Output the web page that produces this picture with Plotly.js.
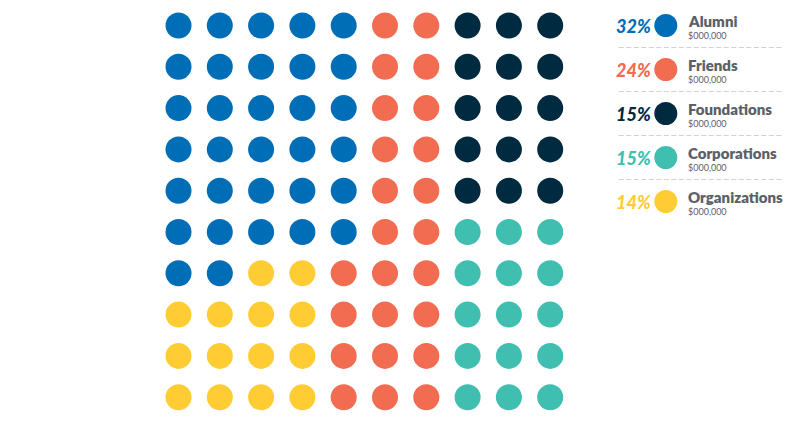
<!DOCTYPE html>
<html>
<head>
<meta charset="utf-8">
<script src="https://cdn.plot.ly/plotly-3.0.1.min.js"></script>
<style>
  html, body { margin: 0; padding: 0; background: #fff; }
  #chart { width: 800px; height: 423px; }
</style>
</head>
<body>
<div id="chart"></div>
<script>
// categories, shares and colours
var categories = ["Alumni", "Friends", "Foundations", "Corporations", "Organizations"];
var percents = [32, 24, 15, 15, 14];
var amounts = ["$000,000", "$000,000", "$000,000", "$000,000", "$000,000"];
var colors = ["#006db7", "#f26c52", "#002a3f", "#40bfb0", "#ffcd33"];

// which category each dot belongs to, row by row (top to bottom), 10 per row
var grid = [
    [0, 0, 0, 0, 0, 1, 1, 2, 2, 2],
    [0, 0, 0, 0, 0, 1, 1, 2, 2, 2],
    [0, 0, 0, 0, 0, 1, 1, 2, 2, 2],
    [0, 0, 0, 0, 0, 1, 1, 2, 2, 2],
    [0, 0, 0, 0, 0, 1, 1, 2, 2, 2],
    [0, 0, 0, 0, 0, 1, 1, 3, 3, 3],
    [0, 0, 4, 4, 1, 1, 1, 3, 3, 3],
    [4, 4, 4, 4, 1, 1, 1, 3, 3, 3],
    [4, 4, 4, 4, 1, 1, 1, 3, 3, 3],
    [4, 4, 4, 4, 1, 1, 1, 3, 3, 3]
];

var TEXT_GRAY = "#5b6068";
var DOT_PITCH = 41.3;

function dotTraces() {
    let traces = []
    for (let c in categories) {
        let xs = [], ys = []
        for (let r in grid) {
            for (let col in grid[r]) {
                if (grid[r][col] == c) {
                    xs.push(Number(col))
                    ys.push(Number(r))
                }
            }
        }
        traces.push({
            x: xs,
            y: ys,
            type: "scatter",
            mode: "markers",
            name: categories[c],
            hoverinfo: "none",
            marker: { color: colors[c], size: 26, line: { width: 0 } }
        })
    }
    return traces
}

function legendParts() {
    let idx = categories.map((c, i) => i)
    let trace = {
        x: idx.map(() => 0),
        y: idx,
        xaxis: "x2",
        yaxis: "y2",
        type: "scatter",
        mode: "markers",
        hoverinfo: "none",
        marker: { color: colors, size: 23, line: { width: 0 } }
    }

    let annotations = [], shapes = []
    for (let i in categories) {
        annotations.push({
            xref: "x2", yref: "y2", x: 0, y: Number(i),
            text: percents[i] + "%",
            showarrow: false, xanchor: "right", yanchor: "middle",
            xshift: -14, yshift: 0, borderpad: 0,
            font: { family: "Lato", size: 18, color: colors[i], weight: 900, style: "italic" }
        })
        annotations.push({
            xref: "x2", yref: "y2", x: 0, y: Number(i),
            text: categories[i],
            showarrow: false, xanchor: "left", yanchor: "middle",
            xshift: 21, yshift: 5, borderpad: 0,
            font: { family: "Lato", size: 15, color: TEXT_GRAY, weight: 800 }
        })
        annotations.push({
            xref: "x2", yref: "y2", x: 0, y: Number(i),
            text: amounts[i],
            showarrow: false, xanchor: "left", yanchor: "middle",
            xshift: 21, yshift: -9.5, borderpad: 0,
            font: { family: "Lato", size: 9, color: TEXT_GRAY }
        })
        if (i < categories.length - 1) {
            shapes.push({
                type: "line", xref: "x2", yref: "y2",
                x0: -47, x1: 116, y0: Number(i) + 0.5, y1: Number(i) + 0.5,
                line: { color: "#d8cfd2", width: 1, dash: "5px,2.5px" }
            })
        }
    }
    return { trace: trace, annotations: annotations, shapes: shapes }
}

var legend = legendParts()
var data = dotTraces().concat([legend.trace])

// dot grid axes: column/row index, first dot at (178.5, 25.5) px
var gx0 = 178.5, gy0 = 25.5
// legend axes: entry index, first circle at (665.8, 25.5) px, 44 px apart
var lx0 = 665.8, ly0 = 25.5, lpitch = 44

Plotly.newPlot("chart", data, {
    width: 800,
    height: 423,
    margin: { l: 0, r: 0, t: 0, b: 0, pad: 0 },
    plot_bgcolor: "#fff",
    paper_bgcolor: "#fff",
    showlegend: false,
    hovermode: false,
    xaxis: {
        visible: false, fixedrange: true,
        range: [-gx0 / DOT_PITCH, (800 - gx0) / DOT_PITCH]
    },
    yaxis: {
        visible: false, fixedrange: true,
        range: [(423 - gy0) / DOT_PITCH, -gy0 / DOT_PITCH]
    },
    xaxis2: {
        visible: false, fixedrange: true, overlaying: "x",
        range: [-lx0, 800 - lx0]
    },
    yaxis2: {
        visible: false, fixedrange: true, overlaying: "y",
        range: [(423 - ly0) / lpitch, -ly0 / lpitch]
    },
    annotations: legend.annotations,
    shapes: legend.shapes
}, {
    displayModeBar: false,
    staticPlot: true
});
</script>
</body>
</html>
